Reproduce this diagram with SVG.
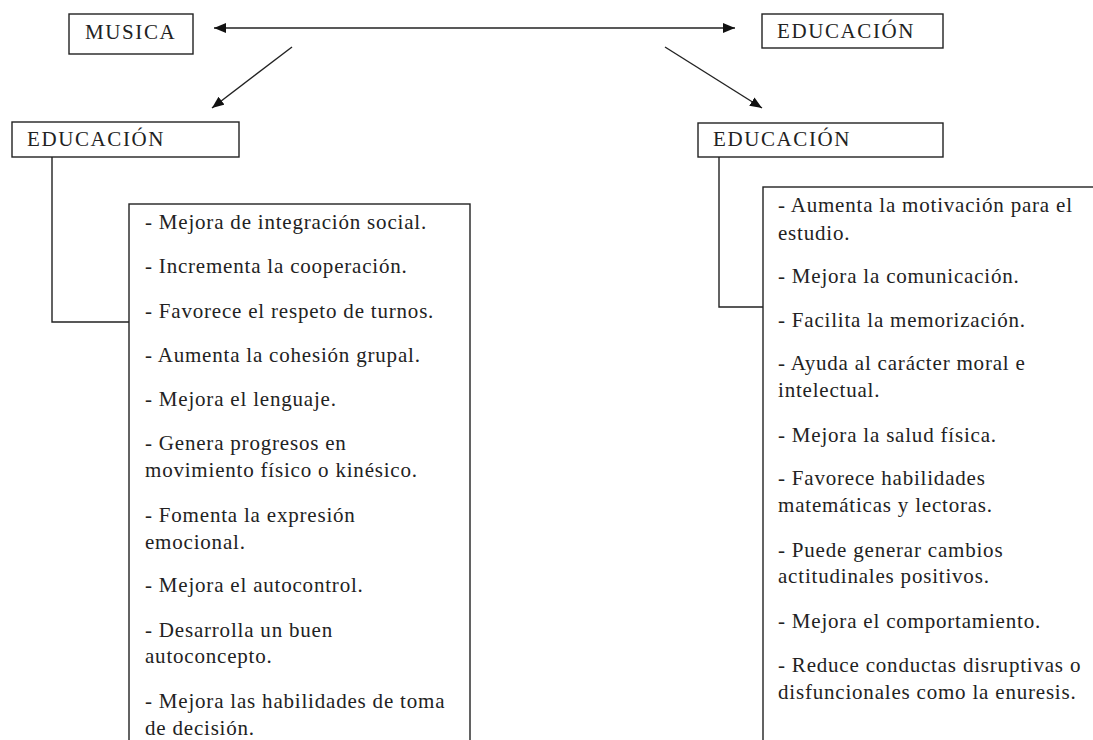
<svg xmlns="http://www.w3.org/2000/svg" width="1093" height="740" viewBox="0 0 1093 740">
<style>
.box{fill:#fff;stroke:#222;stroke-width:1.4}
.lbl{font-family:"Liberation Serif","Times New Roman",serif;font-size:21px;letter-spacing:1.6px;fill:#222}
.item{font-family:"Liberation Serif","Times New Roman",serif;font-size:21px;letter-spacing:0.8px;fill:#222}
.con{fill:none;stroke:#222;stroke-width:1.4}
</style>
<defs>
<marker id="ah" markerUnits="userSpaceOnUse" markerWidth="14" markerHeight="12" refX="12" refY="5" orient="auto-start-reverse">
<path d="M0,0 L12,5 L0,10 z" fill="#111"/>
</marker>
</defs>
<rect width="1093" height="740" fill="#fff"/>
<g id="connectors">
<line class="con" x1="214" y1="28" x2="735" y2="28" marker-start="url(#ah)" marker-end="url(#ah)"/>
<line class="con" x1="292" y1="47" x2="212" y2="108" marker-end="url(#ah)"/>
<line class="con" x1="665" y1="47" x2="762" y2="108" marker-end="url(#ah)"/>
<polyline class="con" points="52,157 52,322 129,322"/>
<polyline class="con" points="719,157 719,307 763,307"/>
</g>
<g id="musica">
<rect class="box" x="69" y="14" width="124" height="40"/>
<text class="lbl" x="85" y="39">MUSICA</text>
</g>
<g id="educacion-top">
<rect class="box" x="762" y="14" width="181" height="34"/>
<text class="lbl" x="777" y="38">EDUCACIÓN</text>
</g>
<g id="educacion-left">
<rect class="box" x="12" y="122" width="227" height="35"/>
<text class="lbl" x="27" y="146">EDUCACIÓN</text>
</g>
<g id="educacion-right">
<rect class="box" x="698" y="123" width="245" height="34"/>
<text class="lbl" x="713" y="146">EDUCACIÓN</text>
</g>
<g id="list-left">
<rect class="box" x="129" y="204" width="341" height="600"/>
<text class="item" x="145" y="229">- Mejora de integración social.</text>
<text class="item" x="145" y="273">- Incrementa la cooperación.</text>
<text class="item" x="145" y="318">- Favorece el respeto de turnos.</text>
<text class="item" x="145" y="362">- Aumenta la cohesión grupal.</text>
<text class="item" x="145" y="406">- Mejora el lenguaje.</text>
<text class="item" x="145" y="450">- Genera progresos en</text>
<text class="item" x="145" y="477">movimiento físico o kinésico.</text>
<text class="item" x="145" y="522">- Fomenta la expresión</text>
<text class="item" x="145" y="549">emocional.</text>
<text class="item" x="145" y="592">- Mejora el autocontrol.</text>
<text class="item" x="145" y="637">- Desarrolla un buen</text>
<text class="item" x="145" y="663">autoconcepto.</text>
<text class="item" x="145" y="708">- Mejora las habilidades de toma</text>
<text class="item" x="145" y="735">de decisión.</text>
</g>
<g id="list-right">
<rect class="box" x="763" y="187" width="340" height="600"/>
<text class="item" x="778" y="212">- Aumenta la motivación para el</text>
<text class="item" x="778" y="240">estudio.</text>
<text class="item" x="778" y="283">- Mejora la comunicación.</text>
<text class="item" x="778" y="327">- Facilita la memorización.</text>
<text class="item" x="778" y="370">- Ayuda al carácter moral e</text>
<text class="item" x="778" y="397">intelectual.</text>
<text class="item" x="778" y="442">- Mejora la salud física.</text>
<text class="item" x="778" y="485">- Favorece habilidades</text>
<text class="item" x="778" y="512">matemáticas y lectoras.</text>
<text class="item" x="778" y="557">- Puede generar cambios</text>
<text class="item" x="778" y="583">actitudinales positivos.</text>
<text class="item" x="778" y="628">- Mejora el comportamiento.</text>
<text class="item" x="778" y="672">- Reduce conductas disruptivas o</text>
<text class="item" x="778" y="699">disfuncionales como la enuresis.</text>
</g>
</svg>
